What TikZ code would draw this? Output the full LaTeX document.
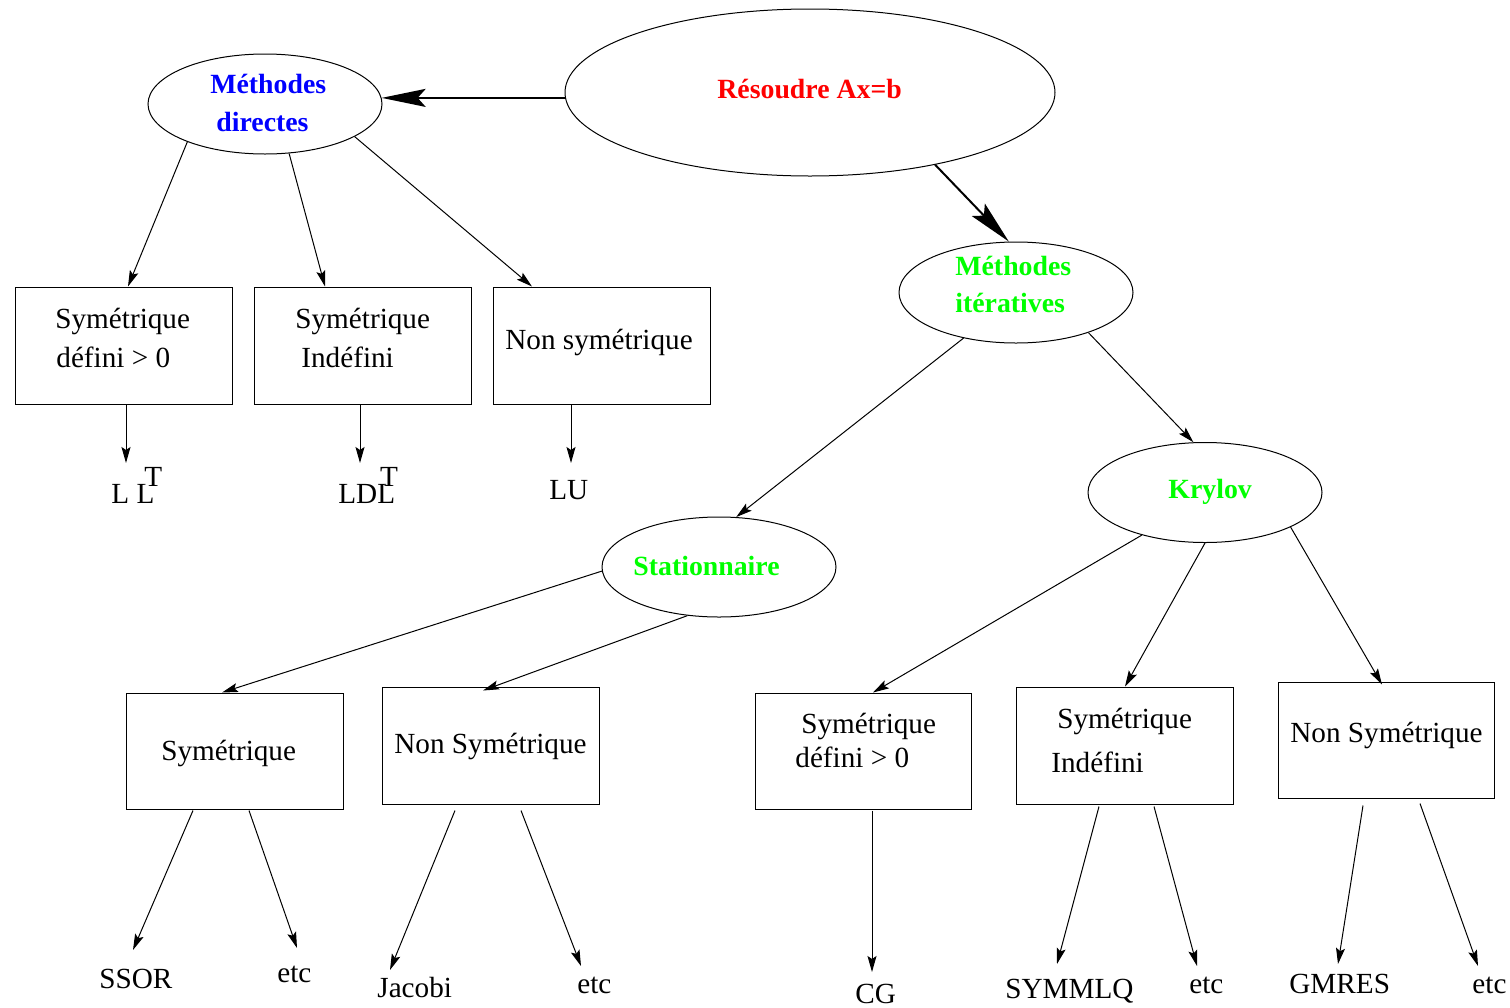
\documentclass[tikz,border=0pt]{standalone}
\usepackage{fontspec}
\setmainfont{Liberation Serif}
\usetikzlibrary{arrows.meta,shapes.geometric}
\definecolor{vgreen}{RGB}{0,255,0}
\begin{document}
\begin{tikzpicture}[x=0.5pt,y=-0.5pt,
  ell/.style={ellipse,draw,line width=0.5pt,inner sep=0pt},
  box/.style={rectangle,draw,line width=0.5pt,inner sep=0pt,minimum width=108.5pt,minimum height=58.5pt},
  txt/.style={inner sep=0pt,anchor=base west,font=\fontsize{14.6}{17}\selectfont},
  btxt/.style={inner sep=0pt,anchor=base west,font=\fontsize{13.9}{17}\selectfont\bfseries},
  arr/.style={line width=0.5pt,-{Stealth[length=8pt,width=4.5pt,inset=1.5pt]}},
  bigarr/.style={line width=1pt,-{Stealth[length=22pt,width=9pt,inset=4pt]}}]

\useasboundingbox (0,0) rectangle (1510,1007);

% ellipses
\node[ell,minimum width=245pt,minimum height=83.5pt] (rs) at (810,92.5) {};
\node[ell,minimum width=117pt,minimum height=50pt] (md) at (265,104) {};
\node[ell,minimum width=117pt,minimum height=50.5pt] (mi) at (1016,292.5) {};
\node[ell,minimum width=117pt,minimum height=50pt] (st) at (719,567) {};
\node[ell,minimum width=117pt,minimum height=50pt] (kr) at (1205,492.5) {};

% ellipse texts
\node[btxt,text=red] (trs) at (717,98) {Résoudre Ax=b};
\node[btxt,text=blue] (tmd1) at (210,93) {Méthodes};
\node[btxt,text=blue] (tmd2) at (216,131) {directes};
\node[btxt,text=vgreen] (tmi1) at (955,275) {Méthodes};
\node[btxt,text=vgreen] (tmi2) at (955,312) {itératives};
\node[btxt,text=vgreen] (tkr) at (1168,498) {Krylov};
\node[btxt,text=vgreen] (tst) at (633,575) {Stationnaire};

% boxes
\node[box] (b1) at (123.5,345.5) {};
\node[box] (b2) at (362.5,345.5) {};
\node[box] (b3) at (601.5,345.5) {};
\node[box,minimum height=58pt] (s1) at (234.5,751) {};
\node[box] (s2) at (490.5,745.5) {};
\node[box,minimum width=108pt,minimum height=58pt] (k1) at (863,751) {};
\node[box] (k2) at (1124.5,745.5) {};
\node[box,minimum width=108pt,minimum height=58pt] (k3) at (1386,740) {};

% box texts
\node[txt] (tb1a) at (55,328) {Symétrique};
\node[txt] (tb1b) at (56,367) {défini > 0};
\node[txt] (tb2a) at (295,328) {Symétrique};
\node[txt] (tb2b) at (301,367) {Indéfini};
\node[txt] (tb3) at (505,349) {Non symétrique};
\node[txt] (ts1) at (161,760) {Symétrique};
\node[txt] (ts2) at (394,753) {Non Symétrique};
\node[txt] (tk1a) at (801,733) {Symétrique};
\node[txt] (tk1b) at (795,767) {défini > 0};
\node[txt] (tk2a) at (1057,728) {Symétrique};
\node[txt] (tk2b) at (1051,772) {Indéfini};
\node[txt] (tk3) at (1290,742) {Non Symétrique};

% leaves
\node[txt] (llt) at (111,503) {L L\kern-5pt\raisebox{8.5pt}{T}};
\node[txt] (ldlt) at (338,503) {LDL\kern-7.5pt\raisebox{8.5pt}{T}};
\node[txt] (lu) at (549,499) {LU};
\node[txt] (ssor) at (99,988) {SSOR};
\node[txt] (etc1) at (277,982) {etc};
\node[txt] (jac) at (377,997) {Jacobi};
\node[txt] (etc2) at (577,993) {etc};
\node[txt] (cg) at (855,1003) {CG};
\node[txt] (symm) at (1005,998) {SYMMLQ};
\node[txt] (etc3) at (1189,993) {etc};
\node[txt] (gmres) at (1289,993) {GMRES};
\node[txt] (etc4) at (1472,993) {etc};

% connectors
\draw[bigarr] (rs.west |- md.3) -- (md.3);
\draw[bigarr] (rs.-30.5) -- (mi.98.7);

\draw[arr] (md.206.9) -- ([shift={(4.5,0)}]b1.north);
\draw[arr] (md.-64.9) -- ([shift={(-37.5,0)}]b2.north);
\draw[arr] (md.-20.7) -- ([shift={(-69.5,0)}]b3.north);
\draw[arr] ([shift={(2.5,0)}]b1.south) -- ([shift={(15,-40)}]llt.base west);
\draw[arr] ([shift={(-2.5,0)}]b2.south) -- ([shift={(22,-40)}]ldlt.base west);
\draw[arr] ([shift={(-30.5,0)}]b3.south) -- ([shift={(22,-36)}]lu.base west);

\draw[arr] (mi.221.7) -- (st.71.6);
\draw[arr] (mi.-29.8) -- (kr.103.1);
\draw[arr] (st.182.5) -- ([shift={(-12.5,0)}]s1.north);
\draw[arr] (st.237.7) -- ([shift={(-7.5,4)}]s2.north);
\draw[arr] (kr.214.2) -- ([shift={(10,0)}]k1.north);
\draw[arr] (kr.270) -- ([shift={(0.5,0)}]k2.north);
\draw[arr] (kr.-22.7) -- ([shift={(-4,3)}]k3.north);

\draw[arr] ([shift={(-41.5,1)}]s1.south) -- ([shift={(34,-38)}]ssor.base west);
\draw[arr] ([shift={(14.5,1)}]s1.south) -- ([shift={(20,-34)}]etc1.base west);
\draw[arr] ([shift={(-35.5,6)}]s2.south) -- ([shift={(13,-27)}]jac.base west);
\draw[arr] ([shift={(30.5,6)}]s2.south) -- ([shift={(4,-27)}]etc2.base west);
\draw[arr] ([shift={(9,1)}]k1.south) -- ([shift={(17,-31)}]cg.base west);
\draw[arr] ([shift={(-25.5,2)}]k2.south) -- ([shift={(52,-34)}]symm.base west);
\draw[arr] ([shift={(29.5,2)}]k2.south) -- ([shift={(8,-27)}]etc3.base west);
\draw[arr] ([shift={(-23,7)}]k3.south) -- ([shift={(49,-29)}]gmres.base west);
\draw[arr] ([shift={(34,5)}]k3.south) -- ([shift={(6,-27)}]etc4.base west);
\end{tikzpicture}
\end{document}
